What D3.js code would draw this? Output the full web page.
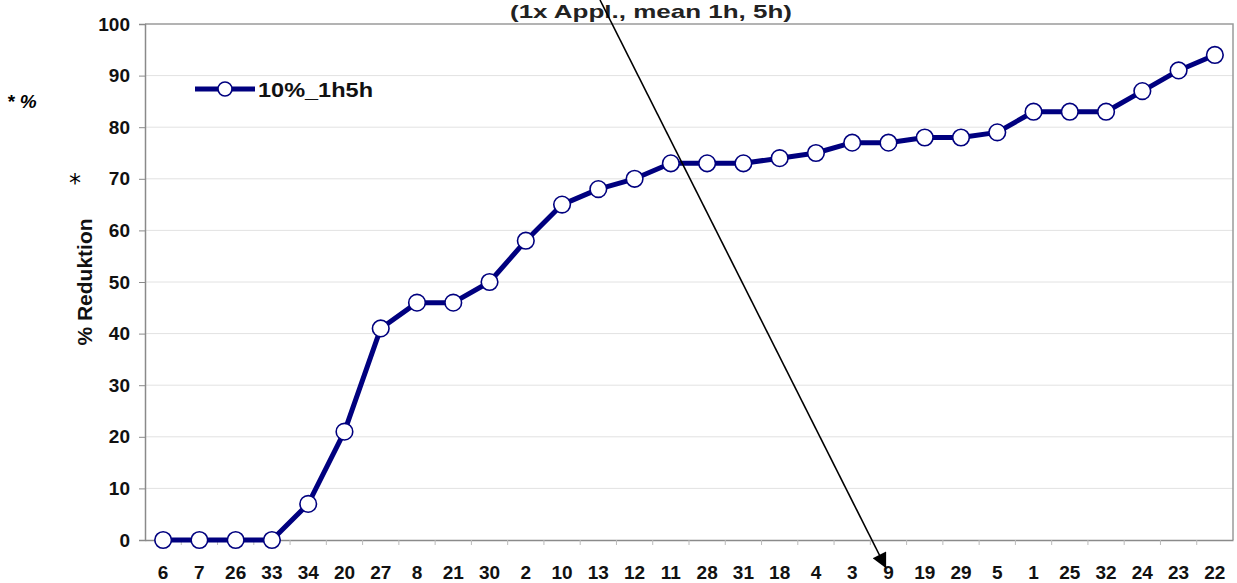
<!DOCTYPE html>
<html>
<head>
<meta charset="utf-8">
<script src="https://cdn.jsdelivr.net/npm/d3@7"></script>
<style>
  body { margin: 0; background: #fff; }
  svg { display: block; font-family: "Liberation Sans", Arial, sans-serif; }
</style>
</head>
<body>
<svg id="chart" width="1237" height="583"></svg>
<script>
// ── data ──
const subjects = ["6", "7", "26", "33", "34", "20", "27", "8", "21", "30", "2", "10", "13", "12", "11",
  "28", "31", "18", "4", "3", "9", "19", "29", "5", "1", "25", "32", "24", "23", "22"];
const reduction = [0, 0, 0, 0, 7, 21, 41, 46, 46, 50, 58, 65, 68, 70, 73,
  73, 73, 74, 75, 77, 77, 78, 78, 79, 83, 83, 83, 87, 91, 94];
const yTicks = [0, 10, 20, 30, 40, 50, 60, 70, 80, 90, 100];
const seriesName = "10%_1h5h";
const titleText = "(1x Appl., mean 1h, 5h)";

const NAVY = "#00007f";
const FONT = "Liberation Sans, Arial, sans-serif";
const svg = d3.select("#chart");
const M = { l: 145, r: 4, t: 24, b: 43 };
const W = 1237, H = 583;

const x = d3.scaleBand().domain(subjects).range([M.l, W - M.r]);
const y = d3.scaleLinear().domain([0, 100]).range([H - M.b, M.t]);

// gridlines
svg.append("g")
  .selectAll("line")
  .data(yTicks.slice(1, -1))
  .join("line")
  .attr("x1", M.l).attr("x2", W - M.r)
  .attr("y1", d => y(d)).attr("y2", d => y(d))
  .attr("stroke", "#e2e2e2").attr("stroke-width", 1);

// frame (top + right)
svg.append("path")
  .attr("d", `M${M.l},${y(100)}H${W - M.r}V${y(0)}`)
  .attr("fill", "none").attr("stroke", "#9a9a9a").attr("stroke-width", 1.5);

// y axis
const yAx = svg.append("g")
  .attr("transform", `translate(${M.l},0)`)
  .call(d3.axisLeft(y).tickValues(yTicks).tickSize(6).tickPadding(9));
yAx.select(".domain").attr("stroke", "#8a8a8a").attr("stroke-width", 1.5);
yAx.selectAll(".tick line").attr("stroke", "#8a8a8a");
yAx.selectAll("text")
  .attr("font-size", "19px").attr("font-weight", "bold").attr("fill", "#111")
  .attr("font-family", FONT);

// x axis
const xAx = svg.append("g")
  .attr("transform", `translate(0,${y(0)})`)
  .call(d3.axisBottom(x).tickSize(0).tickPadding(26));
xAx.select(".domain").attr("stroke", "#8a8a8a").attr("stroke-width", 1.5);
xAx.selectAll("text")
  .attr("font-size", "19px").attr("font-weight", "bold").attr("fill", "#111")
  .attr("font-family", FONT);
// small ticks between categories
svg.append("g")
  .selectAll("line")
  .data(subjects.slice(1))
  .join("line")
  .attr("x1", d => x(d)).attr("x2", d => x(d))
  .attr("y1", y(0)).attr("y2", y(0) + 5)
  .attr("stroke", "#bbb");

// y label
svg.append("text")
  .attr("transform", `translate(92,${y(50)}) rotate(-90)`)
  .attr("text-anchor", "middle")
  .attr("font-size", "21px").attr("font-weight", "bold").attr("fill", "#111")
  .text("% Reduktion");

// title
svg.append("text")
  .attr("x", 510).attr("y", 18)
  .attr("textLength", 282).attr("lengthAdjust", "spacingAndGlyphs")
  .attr("font-size", "19px").attr("font-weight", "bold").attr("fill", "#222")
  .text(titleText);

// stray marks
svg.append("text").attr("x", 7).attr("y", 108)
  .attr("font-size", "19px").attr("font-weight", "bold").attr("font-style", "italic")
  .text("* %");
svg.append("text").attr("x", 69).attr("y", 191)
  .attr("font-size", "24px").attr("font-family", "DejaVu Sans, sans-serif")
  .text("*");

// series
const cx = d => x(d) + x.bandwidth() / 2;
const line = d3.line()
  .x((d, i) => cx(subjects[i]))
  .y(d => y(d));
svg.append("path")
  .datum(reduction)
  .attr("d", line)
  .attr("fill", "none").attr("stroke", NAVY)
  .attr("stroke-width", 5).attr("stroke-linejoin", "round");
svg.append("g")
  .selectAll("circle")
  .data(reduction)
  .join("circle")
  .attr("cx", (d, i) => cx(subjects[i]))
  .attr("cy", d => y(d))
  .attr("r", 8.3)
  .attr("fill", "#fff").attr("stroke", NAVY).attr("stroke-width", 1.6);

// legend
const lg = svg.append("g").attr("transform", "translate(195,89)");
lg.append("line").attr("x1", 0).attr("x2", 60)
  .attr("stroke", NAVY).attr("stroke-width", 5);
lg.append("circle").attr("cx", 30).attr("r", 7)
  .attr("fill", "#fff").attr("stroke", NAVY).attr("stroke-width", 1.6);
lg.append("text").attr("x", 63).attr("y", 7.5)
  .attr("textLength", 115).attr("lengthAdjust", "spacingAndGlyphs")
  .attr("font-size", "20px").attr("font-weight", "bold").attr("fill", "#111")
  .text(seriesName);

// arrow annotation
svg.append("defs").append("marker")
  .attr("id", "ah").attr("viewBox", "0 0 10 10")
  .attr("refX", 9).attr("refY", 5)
  .attr("markerWidth", 17).attr("markerHeight", 15)
  .attr("markerUnits", "userSpaceOnUse")
  .attr("orient", "auto")
  .append("path").attr("d", "M0,0L10,5L0,10Z").attr("fill", "#000");
svg.append("line")
  .attr("x1", 600).attr("y1", 0)
  .attr("x2", cx("9") - 3).attr("y2", 567)
  .attr("stroke", "#000").attr("stroke-width", 1.6)
  .attr("marker-end", "url(#ah)");
</script>
</body>
</html>
